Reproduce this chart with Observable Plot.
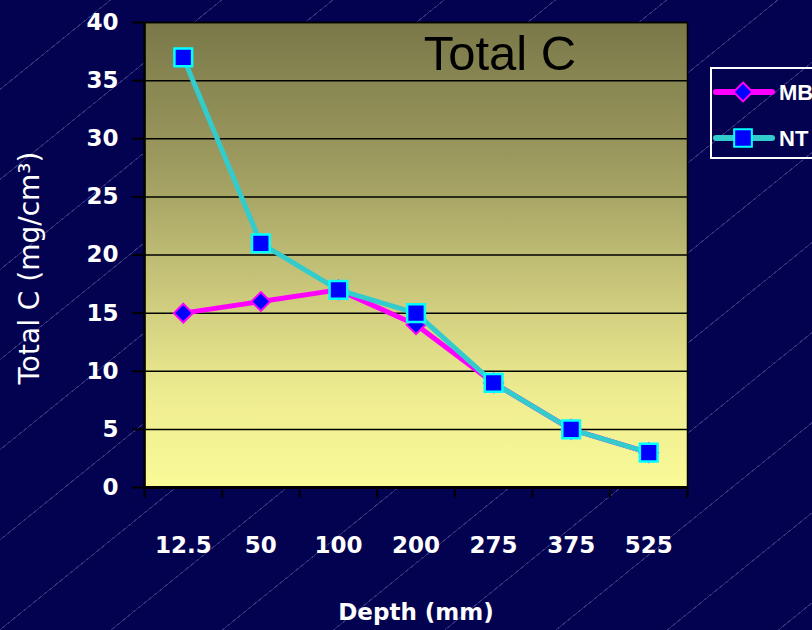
<!DOCTYPE html>
<html><head><meta charset="utf-8">
<script src="https://cdn.jsdelivr.net/npm/d3@7"></script>
<script src="https://cdn.jsdelivr.net/npm/@observablehq/plot@0.6"></script>
<style>
html,body{margin:0;padding:0;background:#020250;}
#wrap{position:relative;width:812px;height:630px;overflow:hidden;
  background-color:#020250;
  background-image:repeating-linear-gradient(141deg, transparent 0px, transparent 69px, rgba(170,170,230,0.28) 69px, rgba(170,170,230,0.28) 70px);}
#chart{position:absolute;left:0;top:0;}
#legend{position:absolute;left:710px;top:67px;width:130px;height:88px;border:2px solid #fff;box-sizing:content-box;}
</style>
</head><body>
<div id="wrap"><div id="chart"></div><div id="legend"></div></div>
<script>
const depths = ["12.5","50","100","200","275","375","525"];
const mbValues = [15, 16, 17, 14, 9, 5, 3];
const ntValues = [37, 21, 17, 15, 9, 5, 3];
const yTicks = [0, 5, 10, 15, 20, 25, 30, 35, 40];
const seriesNames = ["MB", "NT"];
const titleText = "Total C";
const xLabel = "Depth (mm)";
const yLabel = "Total C (mg/cm³)";

const mb = depths.map((d, i) => ({i, depth: d, v: mbValues[i]}));
const nt = depths.map((d, i) => ({i, depth: d, v: ntValues[i]}));
const centers = d3.range(depths.length);
const bounds = d3.range(depths.length + 1).map(i => i - 0.5);

const chart = Plot.plot({
  width: 812, height: 630,
  marginLeft: 144, marginRight: 125, marginTop: 22, marginBottom: 143,
  style: {background: "transparent", color: "white", fontFamily: "DejaVu Sans", overflow: "visible"},
  x: {type: "linear", domain: [-0.5, depths.length - 0.5]},
  y: {domain: [0, 40]},
  marks: [
    Plot.frame({fill: "url(#plotGrad)", stroke: null}),
    Plot.gridY(yTicks.slice(1), {stroke: "black", strokeOpacity: 1, strokeWidth: 1.5}),
    Plot.axisY(yTicks, {tickSize: 12, tickPadding: 14, stroke: "black", strokeWidth: 2, fontSize: 23, fontWeight: "bold", label: null}),
    Plot.axisX(centers, {tickSize: 0, tickPadding: 49, tickFormat: i => depths[i], fontSize: 23, fontWeight: "bold", label: null}),
    Plot.axisX(bounds, {tickSize: 11, tickFormat: () => "", stroke: "black", strokeWidth: 2, label: null}),
    Plot.frame({stroke: "black", strokeWidth: 1.5}),
    Plot.ruleY([0], {stroke: "black", strokeWidth: 3}),
    Plot.ruleX([-0.5], {stroke: "black", strokeWidth: 2.5}),
    Plot.text([titleText], {frameAnchor: "top", dx: 84, dy: 13, fontSize: 49, fontFamily: "Liberation Sans", fill: "black"}),
    Plot.text([yLabel], {frameAnchor: "left", textAnchor: "middle", rotate: -90, dx: -114, dy: 13, fontSize: 28, fill: "white"}),
    Plot.text([xLabel], {frameAnchor: "bottom", dy: 132, fontSize: 23, fontWeight: "bold", fill: "white"}),
    Plot.line(mb, {x: "i", y: "v", stroke: "#ff00ff", strokeWidth: 5}),
    Plot.dot(mb, {x: "i", y: "v", symbol: "diamond2", r: 8.5, fill: "#0000ff", stroke: "#ff00ff", strokeWidth: 2}),
    Plot.line(nt, {x: "i", y: "v", stroke: "#33cccc", strokeWidth: 5}),
    Plot.dot(nt, {x: "i", y: "v", symbol: "square", r: 10, fill: "#0000ff", stroke: "#00ffff", strokeWidth: 2.5})
  ]
});
document.getElementById("chart").appendChild(chart);

const svg = d3.select(chart);
const grad = svg.insert("defs", ":first-child").append("linearGradient")
  .attr("id", "plotGrad").attr("x1", 0).attr("y1", 0).attr("x2", 0).attr("y2", 1);
[[0, "#7a7849"], [0.3, "#9c9a5e"], [0.55, "#c6c379"], [0.8, "#eeec90"], [1, "#fafa98"]]
  .forEach(([o, c]) => grad.append("stop").attr("offset", o).attr("stop-color", c));

// legend
const legendSeries = [
  {name: seriesNames[0], stroke: "#ff00ff", symbol: d3.symbolDiamond2, r: 8.5, mstroke: "#ff00ff"},
  {name: seriesNames[1], stroke: "#33cccc", symbol: d3.symbolSquare, r: 10, mstroke: "#00ffff"}
];
const lsvg = d3.select("#legend").append("svg").attr("width", 130).attr("height", 88).style("display", "block");
legendSeries.forEach((s, k) => {
  const cy = 23 + k * 46;
  lsvg.append("line").attr("x1", 4).attr("x2", 60).attr("y1", cy).attr("y2", cy)
    .attr("stroke", s.stroke).attr("stroke-width", 6).attr("stroke-linecap", "round");
  lsvg.append("path").attr("transform", `translate(31,${cy})`)
    .attr("d", d3.symbol(s.symbol, s.r * s.r * Math.PI)())
    .attr("fill", "#0000ff").attr("stroke", s.mstroke).attr("stroke-width", 2);
  lsvg.append("text").attr("x", 67).attr("y", cy).attr("dy", "0.36em")
    .attr("fill", "white").attr("font-family", "Liberation Sans").attr("font-weight", "bold")
    .attr("font-size", 22).text(s.name);
});
</script>
</body></html>
